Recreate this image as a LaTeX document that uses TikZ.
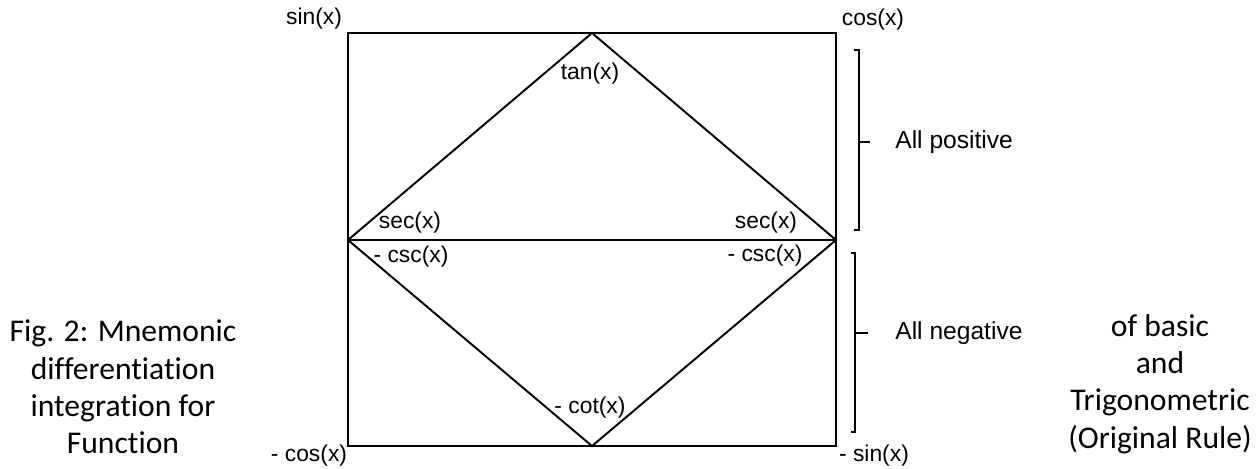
\documentclass[tikz,border=0pt]{standalone}
\usepackage{fontspec}
\setmainfont[Ligatures=NoCommon]{Carlito}
\newfontfamily\trigfont{Liberation Sans}
\usetikzlibrary{positioning}
\tikzset{
    frame/.style={line width=1.1pt},
    brace/.style={line width=0.6pt},
    trig/.style={font=\trigfont\fontsize{13}{15}\selectfont, inner sep=0pt},
    sign/.style={font=\trigfont\fontsize{14}{16}\selectfont, inner sep=0pt, anchor=west},
    caption/.style={font=\fontsize{18}{21.3}\selectfont, align=center, inner sep=0pt},
}

\begin{document}
\begin{tikzpicture}[x=0.02cm, y=-0.02cm]
    \useasboundingbox (0,0) rectangle (1260,468);
    % box corners and midpoints
    \coordinate (nw) at (348,33);
    \coordinate (ne) at (836,33);
    \coordinate (sw) at (348,446);
    \coordinate (se) at (836,446);
    \coordinate (w) at (348,240);
    \coordinate (e) at (836,240);
    \coordinate (n) at (592,33);
    \coordinate (s) at (592,446);

    \draw[frame] (nw) rectangle (se);
    \draw[frame] (w) -- (e);
    \draw[frame] (w) -- (n) -- (e) -- (s) -- cycle;

    % corner functions
    \node[trig] (sin) at (314,19) {sin(x)};
    \node[trig] (cos) at (873,20) {cos(x)};
    \node[trig,anchor=south] (mcos) at (309,467) {- cos(x)};
    \node[trig,anchor=south] (msin) at (874,467) {- sin(x)};

    % inner functions
    \node[trig] (tan) at (590,74) {tan(x)};
    \node[trig] (secl) at (410,223) {sec(x)};
    \node[trig] (secr) at (766,223) {sec(x)};
    \node[trig] (cscl) at (411,257) {- csc(x)};
    \node[trig] (cscr) at (765,256) {- csc(x)};
    \node[trig] (cot) at (590,408) {- cot(x)};

    % brackets for the two halves
    \draw[brace] (854,50) -- (859,50) -- (859,230) -- (854,230);
    \draw[brace] (859,142) -- (870,142);
    \draw[brace] (851,253) -- (855,253) -- (855,432) -- (851,432);
    \draw[brace] (855,333) -- (868,333);
    \node[sign] (pos) at (895,142) {All positive};
    \node[sign] (neg) at (895,333) {All negative};

    % caption, split on both sides
    \node[caption] (capl) at (123,387) {Fig. 2: Mnemonic\\differentiation\\integration for\\Function};
    \node[caption] (capr) at (1160,384) {of basic\\and\\Trigonometric\\(Original Rule)};
\end{tikzpicture}
\end{document}
